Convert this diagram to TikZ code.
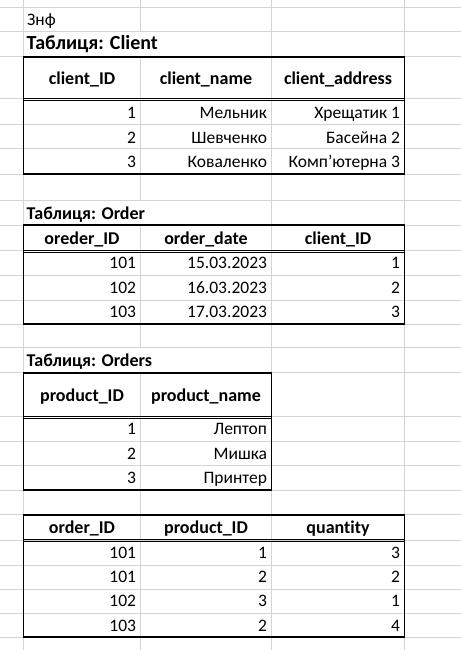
\documentclass[tikz,border=0pt]{standalone}
\usepackage{fontspec}
\setmainfont{Carlito}[Ligatures=NoCommon]
\definecolor{gridgray}{HTML}{D4D4D4}

\tikzset{
  grid/.style={draw=gridgray, line width=0.9bp},
  frame/.style={draw=black, line width=1.8bp},
  hdrline/.style={draw=black, line width=0.9bp},
  cell/.style={anchor=base east, inner sep=0pt, font=\fontsize{17.5bp}{20bp}\selectfont},
  plain/.style={anchor=base west, inner sep=0pt, font=\fontsize{17.5bp}{20bp}\selectfont},
  head/.style={anchor=base, inner sep=0pt, font=\fontsize{18bp}{20bp}\selectfont\bfseries},
  title/.style={anchor=base west, inner sep=0pt, font=\fontsize{18bp}{20bp}\selectfont\bfseries},
  bigtitle/.style={anchor=base west, inner sep=0pt, font=\fontsize{20bp}{22bp}\selectfont\bfseries}
}

\begin{document}
\begin{tikzpicture}[x=1bp,y=-1bp]
\useasboundingbox (0,0) rectangle (461,650);
\fill [white] (0,0) rectangle (461,650);
% sheet grid
\draw [grid] (0,7) -- (461,7) (0,31.3) -- (461,31.3) (0,56.7) -- (461,56.7)
  (0,98.7) -- (461,98.7) (0,124.3) -- (461,124.3) (0,148.7) -- (461,148.7)
  (0,174) -- (461,174) (0,200) -- (461,200) (0,225) -- (461,225)
  (0,250.7) -- (461,250.7) (0,275.7) -- (461,275.7) (0,300) -- (461,300)
  (0,324.3) -- (461,324.3) (0,347.3) -- (461,347.3) (0,372.7) -- (461,372.7)
  (0,416.7) -- (461,416.7) (0,441.7) -- (461,441.7) (0,465.7) -- (461,465.7)
  (0,490) -- (461,490) (0,514.7) -- (461,514.7) (0,540) -- (461,540)
  (0,565.3) -- (461,565.3) (0,589.3) -- (461,589.3) (0,613.3) -- (461,613.3)
  (0,637.3) -- (461,637.3);
\draw [grid] (23.5,0) -- (23.5,650) (271.5,0) -- (271.5,650) (404.5,0) -- (404.5,650);
\draw [grid] (140.5,0) -- (140.5,31.3) (140.5,56.7) -- (140.5,200)
  (140.5,225) -- (140.5,347.3) (140.5,372.7) -- (140.5,650);

% titles
\node [plain] (note) at (27,26) {Знф};
\node [bigtitle] (tclient) at (26.5,50) {Таблиця: Client};
\node [title] (torder) at (26.5,219) {Таблиця: Order};
\node [title] (tproduct) at (26.5,366.7) {Таблиця: Orders};

% table Client
\draw [frame] (23.5,56.7) rectangle (404.5,174);
\draw [hdrline] (23.5,98.3) -- (404.5,98.3);
\draw [hdrline] (23.5,100.5) -- (404.5,100.5);
\node [head] (clh1) at (82,84.5) {client\_ID};
\node [head] (clh2) at (206,84.5) {client\_name};
\node [head] (clh3) at (338,84.5) {client\_address};
\node [cell] (cl11) at (136.2,118.3) {1};
\node [cell] (cl12) at (267.2,118.3) {Мельник};
\node [cell] (cl13) at (400.2,118.3) {Хрещатик 1};
\node [cell] (cl21) at (136.2,143.3) {2};
\node [cell] (cl22) at (267.2,143.3) {Шевченко};
\node [cell] (cl23) at (400.2,143.3) {Басейна 2};
\node [cell] (cl31) at (136.2,167.7) {3};
\node [cell] (cl32) at (267.2,167.7) {Коваленко};
\node [cell] (cl33) at (400.2,167.7) {Комп’ютерна 3};

% table Order
\draw [frame] (23.5,225) rectangle (404.5,324.3);
\draw [hdrline] (23.5,250.3) -- (404.5,250.3);
\draw [hdrline] (23.5,252.5) -- (404.5,252.5);
\node [head] (orh1) at (82,244) {oreder\_ID};
\node [head] (orh2) at (206,244) {order\_date};
\node [head] (orh3) at (338,244) {client\_ID};
\node [cell] (or11) at (136.2,268.3) {101};
\node [cell] (or12) at (267.2,268.3) {15.03.2023};
\node [cell] (or13) at (400.2,268.3) {1};
\node [cell] (or21) at (136.2,293.3) {102};
\node [cell] (or22) at (267.2,293.3) {16.03.2023};
\node [cell] (or23) at (400.2,293.3) {2};
\node [cell] (or31) at (136.2,317.7) {103};
\node [cell] (or32) at (267.2,317.7) {17.03.2023};
\node [cell] (or33) at (400.2,317.7) {3};

% table Orders (products)
\draw [frame] (23.5,372.7) rectangle (271.5,490);
\draw [hdrline] (23.5,416.3) -- (271.5,416.3);
\draw [hdrline] (23.5,418.5) -- (271.5,418.5);
\node [head] (prh1) at (82,401) {product\_ID};
\node [head] (prh2) at (206,401) {product\_name};
\node [cell] (pr11) at (136.2,434) {1};
\node [cell] (pr12) at (267.2,434) {Лептоп};
\node [cell] (pr21) at (136.2,459.3) {2};
\node [cell] (pr22) at (267.2,459.3) {Мишка};
\node [cell] (pr31) at (136.2,483.3) {3};
\node [cell] (pr32) at (267.2,483.3) {Принтер};

% table of order items
\draw [frame] (23.5,514.7) rectangle (404.5,637.3);
\draw [hdrline] (23.5,539.6) -- (404.5,539.6);
\draw [hdrline] (23.5,541.8) -- (404.5,541.8);
\node [head] (ith1) at (82,533.3) {order\_ID};
\node [head] (ith2) at (206,533.3) {product\_ID};
\node [head] (ith3) at (338,533.3) {quantity};
\node [cell] (it11) at (136.2,558.3) {101};
\node [cell] (it12) at (267.2,558.3) {1};
\node [cell] (it13) at (400.2,558.3) {3};
\node [cell] (it21) at (136.2,582.3) {101};
\node [cell] (it22) at (267.2,582.3) {2};
\node [cell] (it23) at (400.2,582.3) {2};
\node [cell] (it31) at (136.2,606.7) {102};
\node [cell] (it32) at (267.2,606.7) {3};
\node [cell] (it33) at (400.2,606.7) {1};
\node [cell] (it41) at (136.2,631) {103};
\node [cell] (it42) at (267.2,631) {2};
\node [cell] (it43) at (400.2,631) {4};
\end{tikzpicture}
\end{document}
